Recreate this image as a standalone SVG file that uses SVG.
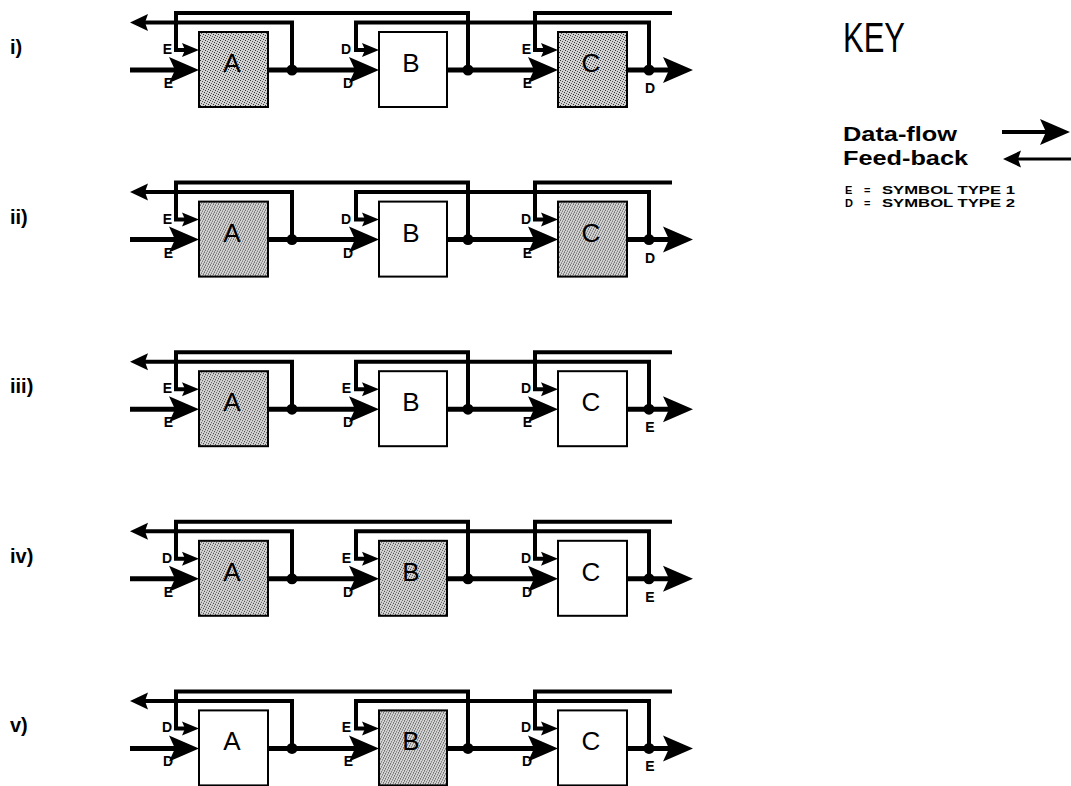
<svg xmlns="http://www.w3.org/2000/svg" xmlns:xlink="http://www.w3.org/1999/xlink" width="1071" height="786" viewBox="0 0 1071 786">
<style>
.bg{fill:#ffffff}
.main{fill:none;stroke:#000;stroke-width:5;stroke-linejoin:miter}
.fb{fill:none;stroke:#000;stroke-width:4;stroke-linejoin:miter}
.box{stroke:#000;stroke-width:2}
.white{fill:#fff}
.grey{fill:url(#stip)}
.dot{fill:#000}
.lbl{font-family:"Liberation Sans",Arial,sans-serif;font-weight:bold;font-size:14px;fill:#000}
.nodeTxt{font-family:"Liberation Sans",Arial,sans-serif;font-size:26px;fill:#000;text-anchor:middle}
.row{font-family:"Liberation Sans",Arial,sans-serif;font-weight:bold;font-size:20px;fill:#000}
.key{font-family:"Liberation Sans",Arial,sans-serif;fill:#000}
.sym{font-family:"Liberation Sans",Arial,sans-serif;fill:#000;font-size:11px;font-weight:bold}
</style>
<defs>
<pattern id="stip" width="5" height="5" patternUnits="userSpaceOnUse">
<rect width="5" height="5" fill="#d2d2d2"/>
<rect x="0" y="0" width="1" height="1" fill="#333"/>
<rect x="2" y="1" width="1" height="1" fill="#555"/>
<rect x="4" y="2" width="1" height="1" fill="#333"/>
<rect x="1" y="3" width="1" height="1" fill="#555"/>
<rect x="3" y="4" width="1" height="1" fill="#333"/>
</pattern>
<marker id="mBig" viewBox="0 -14 32 28" markerWidth="32" markerHeight="28" markerUnits="userSpaceOnUse" refX="10" refY="0" orient="auto">
<path d="M0,-13 L30,0 L0,13 L6,0 Z" fill="#000"/>
</marker>
<marker id="mSmall" viewBox="0 -8 18 16" markerWidth="18" markerHeight="16" markerUnits="userSpaceOnUse" refX="7" refY="0" orient="auto">
<path d="M0,-7 L17,0 L0,7 L3,0 Z" fill="#000"/>
</marker>
<marker id="mFb" viewBox="0 -9 19 18" markerWidth="19" markerHeight="18" markerUnits="userSpaceOnUse" refX="8" refY="0" orient="auto">
<path d="M0,-8.5 L18,0 L0,8.5 L3,0 Z" fill="#000"/>
</marker>
<g id="wires">
<path class="main" d="M130,70 H179" marker-end="url(#mBig)"/>
<path class="main" d="M268,70 H359" marker-end="url(#mBig)"/>
<path class="main" d="M447,70 H538" marker-end="url(#mBig)"/>
<path class="main" d="M627,70 H673" marker-end="url(#mBig)"/>
<path class="fb" d="M468,70 V13 H176 V50 H189" marker-end="url(#mSmall)"/>
<path class="fb" d="M292,70 V22.5 H140" marker-end="url(#mFb)"/>
<path class="fb" d="M649,70 V22.5 H356 V50 H369" marker-end="url(#mSmall)"/>
<path class="fb" d="M672,13 H535 V50 H548" marker-end="url(#mSmall)"/>
<circle class="dot" cx="292" cy="70" r="5.5"/>
<circle class="dot" cx="468" cy="70" r="5.5"/>
<circle class="dot" cx="649" cy="70" r="5.5"/>
</g>
</defs>
<rect class="bg" x="0" y="0" width="1071" height="786"/>

<!-- Row i -->
<g id="row-i">
<text class="row" x="10" y="54">i)</text>
<g id="connectors-i">
<use xlink:href="#wires" href="#wires"/>
<text class="lbl" x="172" y="54" text-anchor="end">E</text>
<text class="lbl" x="173" y="88" text-anchor="end">E</text>
<text class="lbl" x="351" y="54" text-anchor="end">D</text>
<text class="lbl" x="353" y="88" text-anchor="end">D</text>
<text class="lbl" x="531" y="54" text-anchor="end">E</text>
<text class="lbl" x="532" y="88" text-anchor="end">E</text>
<text class="lbl" x="650" y="93" text-anchor="middle">D</text>
</g>
<g id="i-A"><rect class="box grey" x="199" y="32" width="69" height="75"/><text class="nodeTxt" x="232" y="72">A</text></g>
<g id="i-B"><rect class="box white" x="379" y="32" width="68" height="75"/><text class="nodeTxt" x="411" y="72">B</text></g>
<g id="i-C"><rect class="box grey" x="558" y="32" width="69" height="75"/><text class="nodeTxt" x="591" y="72">C</text></g>
</g>

<!-- Row ii -->
<g id="row-ii" transform="translate(0,169.6)">
<text class="row" x="10" y="54">ii)</text>
<g id="connectors-ii">
<use xlink:href="#wires" href="#wires"/>
<text class="lbl" x="172" y="54" text-anchor="end">E</text>
<text class="lbl" x="173" y="88" text-anchor="end">E</text>
<text class="lbl" x="351" y="54" text-anchor="end">D</text>
<text class="lbl" x="353" y="88" text-anchor="end">D</text>
<text class="lbl" x="531" y="54" text-anchor="end">D</text>
<text class="lbl" x="532" y="88" text-anchor="end">E</text>
<text class="lbl" x="650" y="93" text-anchor="middle">D</text>
</g>
<g id="ii-A"><rect class="box grey" x="199" y="32" width="69" height="75"/><text class="nodeTxt" x="232" y="72">A</text></g>
<g id="ii-B"><rect class="box white" x="379" y="32" width="68" height="75"/><text class="nodeTxt" x="411" y="72">B</text></g>
<g id="ii-C"><rect class="box grey" x="558" y="32" width="69" height="75"/><text class="nodeTxt" x="591" y="72">C</text></g>
</g>

<!-- Row iii -->
<g id="row-iii" transform="translate(0,339.2)">
<text class="row" x="10" y="54">iii)</text>
<g id="connectors-iii">
<use xlink:href="#wires" href="#wires"/>
<text class="lbl" x="172" y="54" text-anchor="end">E</text>
<text class="lbl" x="173" y="88" text-anchor="end">E</text>
<text class="lbl" x="351" y="54" text-anchor="end">E</text>
<text class="lbl" x="353" y="88" text-anchor="end">D</text>
<text class="lbl" x="531" y="54" text-anchor="end">D</text>
<text class="lbl" x="532" y="88" text-anchor="end">E</text>
<text class="lbl" x="650" y="93" text-anchor="middle">E</text>
</g>
<g id="iii-A"><rect class="box grey" x="199" y="32" width="69" height="75"/><text class="nodeTxt" x="232" y="72">A</text></g>
<g id="iii-B"><rect class="box white" x="379" y="32" width="68" height="75"/><text class="nodeTxt" x="411" y="72">B</text></g>
<g id="iii-C"><rect class="box white" x="558" y="32" width="69" height="75"/><text class="nodeTxt" x="591" y="72">C</text></g>
</g>

<!-- Row iv -->
<g id="row-iv" transform="translate(0,508.8)">
<text class="row" x="10" y="54">iv)</text>
<g id="connectors-iv">
<use xlink:href="#wires" href="#wires"/>
<text class="lbl" x="172" y="54" text-anchor="end">D</text>
<text class="lbl" x="173" y="88" text-anchor="end">E</text>
<text class="lbl" x="351" y="54" text-anchor="end">E</text>
<text class="lbl" x="353" y="88" text-anchor="end">D</text>
<text class="lbl" x="531" y="54" text-anchor="end">D</text>
<text class="lbl" x="532" y="88" text-anchor="end">D</text>
<text class="lbl" x="650" y="93" text-anchor="middle">E</text>
</g>
<g id="iv-A"><rect class="box grey" x="199" y="32" width="69" height="75"/><text class="nodeTxt" x="232" y="72">A</text></g>
<g id="iv-B"><rect class="box grey" x="379" y="32" width="68" height="75"/><text class="nodeTxt" x="411" y="72">B</text></g>
<g id="iv-C"><rect class="box white" x="558" y="32" width="69" height="75"/><text class="nodeTxt" x="591" y="72">C</text></g>
</g>

<!-- Row v -->
<g id="row-v" transform="translate(0,678.4)">
<text class="row" x="10" y="54">v)</text>
<g id="connectors-v">
<use xlink:href="#wires" href="#wires"/>
<text class="lbl" x="172" y="54" text-anchor="end">D</text>
<text class="lbl" x="173" y="88" text-anchor="end">D</text>
<text class="lbl" x="351" y="54" text-anchor="end">E</text>
<text class="lbl" x="353" y="88" text-anchor="end">E</text>
<text class="lbl" x="531" y="54" text-anchor="end">D</text>
<text class="lbl" x="532" y="88" text-anchor="end">D</text>
<text class="lbl" x="650" y="93" text-anchor="middle">E</text>
</g>
<g id="v-A"><rect class="box white" x="199" y="32" width="69" height="75"/><text class="nodeTxt" x="232" y="72">A</text></g>
<g id="v-B"><rect class="box grey" x="379" y="32" width="68" height="75"/><text class="nodeTxt" x="411" y="72">B</text></g>
<g id="v-C"><rect class="box white" x="558" y="32" width="69" height="75"/><text class="nodeTxt" x="591" y="72">C</text></g>
</g>

<!-- Key -->
<g id="key">
<text class="key" x="843" y="52" font-size="42" textLength="62" lengthAdjust="spacingAndGlyphs">KEY</text>
<text class="key" x="843" y="141" font-size="20" font-weight="bold" textLength="114" lengthAdjust="spacingAndGlyphs">Data-flow</text>
<text class="key" x="843" y="165" font-size="20" font-weight="bold" textLength="125" lengthAdjust="spacingAndGlyphs">Feed-back</text>
<path d="M1002,132 H1050" stroke="#000" stroke-width="4" fill="none" marker-end="url(#mBig)"/>
<path d="M1071,159 H1013" stroke="#000" stroke-width="3" fill="none" marker-end="url(#mFb)"/>
<text class="sym" x="845" y="194">E</text>
<text class="sym" x="864" y="194">=</text>
<text class="sym" x="882" y="194" textLength="133" lengthAdjust="spacingAndGlyphs">SYMBOL TYPE 1</text>
<text class="sym" x="845" y="207">D</text>
<text class="sym" x="864" y="207">=</text>
<text class="sym" x="882" y="207" textLength="133" lengthAdjust="spacingAndGlyphs">SYMBOL TYPE 2</text>
</g>
</svg>
